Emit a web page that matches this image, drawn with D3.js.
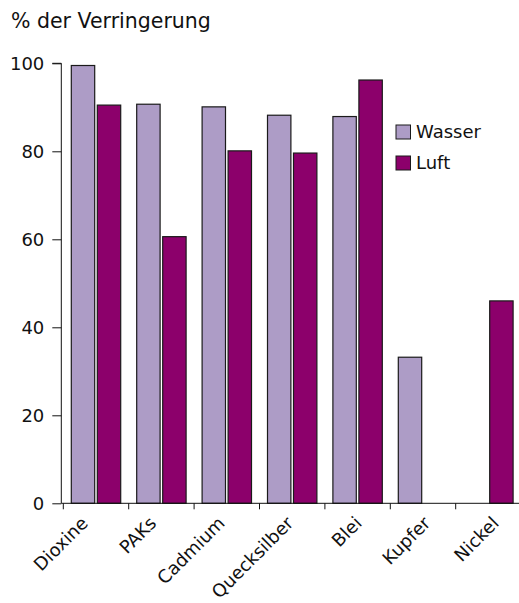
<!DOCTYPE html>
<html><head><meta charset="utf-8">
<script src="https://cdn.jsdelivr.net/npm/d3@7"></script>
<style>body{margin:0;background:#fff}svg{display:block}text{font-family:"DejaVu Sans",Verdana,sans-serif;fill:#111}</style>
</head><body><svg id="c" width="519" height="603"></svg>
<script>
const categories = ["Dioxine","PAKs","Cadmium","Quecksilber","Blei","Kupfer","Nickel"];
const series = ["Wasser","Luft"];
const wasser = [99.5, 90.7, 90.1, 88.2, 87.9, 33.2, null];
const luft   = [90.5, 60.6, 80.1, 79.6, 96.2, null, 46.0];
const yTicks = [0,20,40,60,80,100];
const colors = {"Wasser":"#ad9cc6","Luft":"#8c006b"};
const title = "% der Verringerung";

const svg = d3.select("#c");
const x0 = 63.3, y0 = 503.3, yTop = 63.3, step = 65.4;
const x = d3.scaleBand().domain(categories).range([x0, x0 + step*categories.length]).padding(0);
const x1 = d3.scaleBand().domain(series).range([8, 57.4]).paddingInner(0.1);
const xl = d3.scalePoint().domain(categories).range([89, 500]);
const y = d3.scaleLinear().domain([0,100]).range([y0, yTop]);

svg.append("text").attr("x",11).attr("y",28).style("font-size","20.5px").text(title);

// bars
const data = [];
categories.forEach((c,i)=>{
  [["Wasser",wasser[i]],["Luft",luft[i]]].forEach(([s,v])=>{ if(v!=null) data.push({c,s,v}); });
});
svg.append("g").selectAll("rect").data(data).join("rect")
  .attr("x", d=>x(d.c)+x1(d.s))
  .attr("width", x1.bandwidth())
  .attr("y", d=>y(d.v))
  .attr("height", d=>y(0)-y(d.v))
  .attr("fill", d=>colors[d.s])
  .attr("stroke","#1a1a1a").attr("stroke-width",1.2);

// y axis
const yAxis = svg.append("g").attr("transform",`translate(${x0-2},0)`)
  .call(d3.axisLeft(y).tickValues(yTicks).tickSize(9).tickPadding(8).tickFormat(d3.format("d")));
yAxis.select(".domain").attr("d",`M-9,${yTop}H0V${y0}`).attr("stroke","#111");
yAxis.selectAll("line").attr("stroke","#111");
yAxis.selectAll("text").style("font-size","18px").attr("fill","#111");

// x axis with ticks at band boundaries
const xAxis = svg.append("g").attr("transform",`translate(0,${y0})`);
xAxis.append("line").attr("x1",x0-2).attr("x2",519).attr("y1",0).attr("y2",0).attr("stroke","#111");
xAxis.selectAll("line.t").data(categories).join("line").attr("class","t")
  .attr("x1",d=>x(d)).attr("x2",d=>x(d)).attr("y1",0).attr("y2",6).attr("stroke","#111");
xAxis.selectAll("text").data(categories).join("text")
  .attr("transform",d=>`translate(${xl(d)},${21}) rotate(-45)`)
  .attr("text-anchor","end")
  .style("font-size","18px").text(d=>d);

// legend
const lg = svg.append("g").attr("transform","translate(396,125)");
series.forEach((s,i)=>{
  const g = lg.append("g").attr("transform",`translate(0,${i*31})`);
  g.append("rect").attr("width",14.5).attr("height",14).attr("fill",colors[s]).attr("stroke","#1a1a1a");
  g.append("text").attr("x",20).attr("y",13).style("font-size","18px").text(s);
});
</script></body></html>
